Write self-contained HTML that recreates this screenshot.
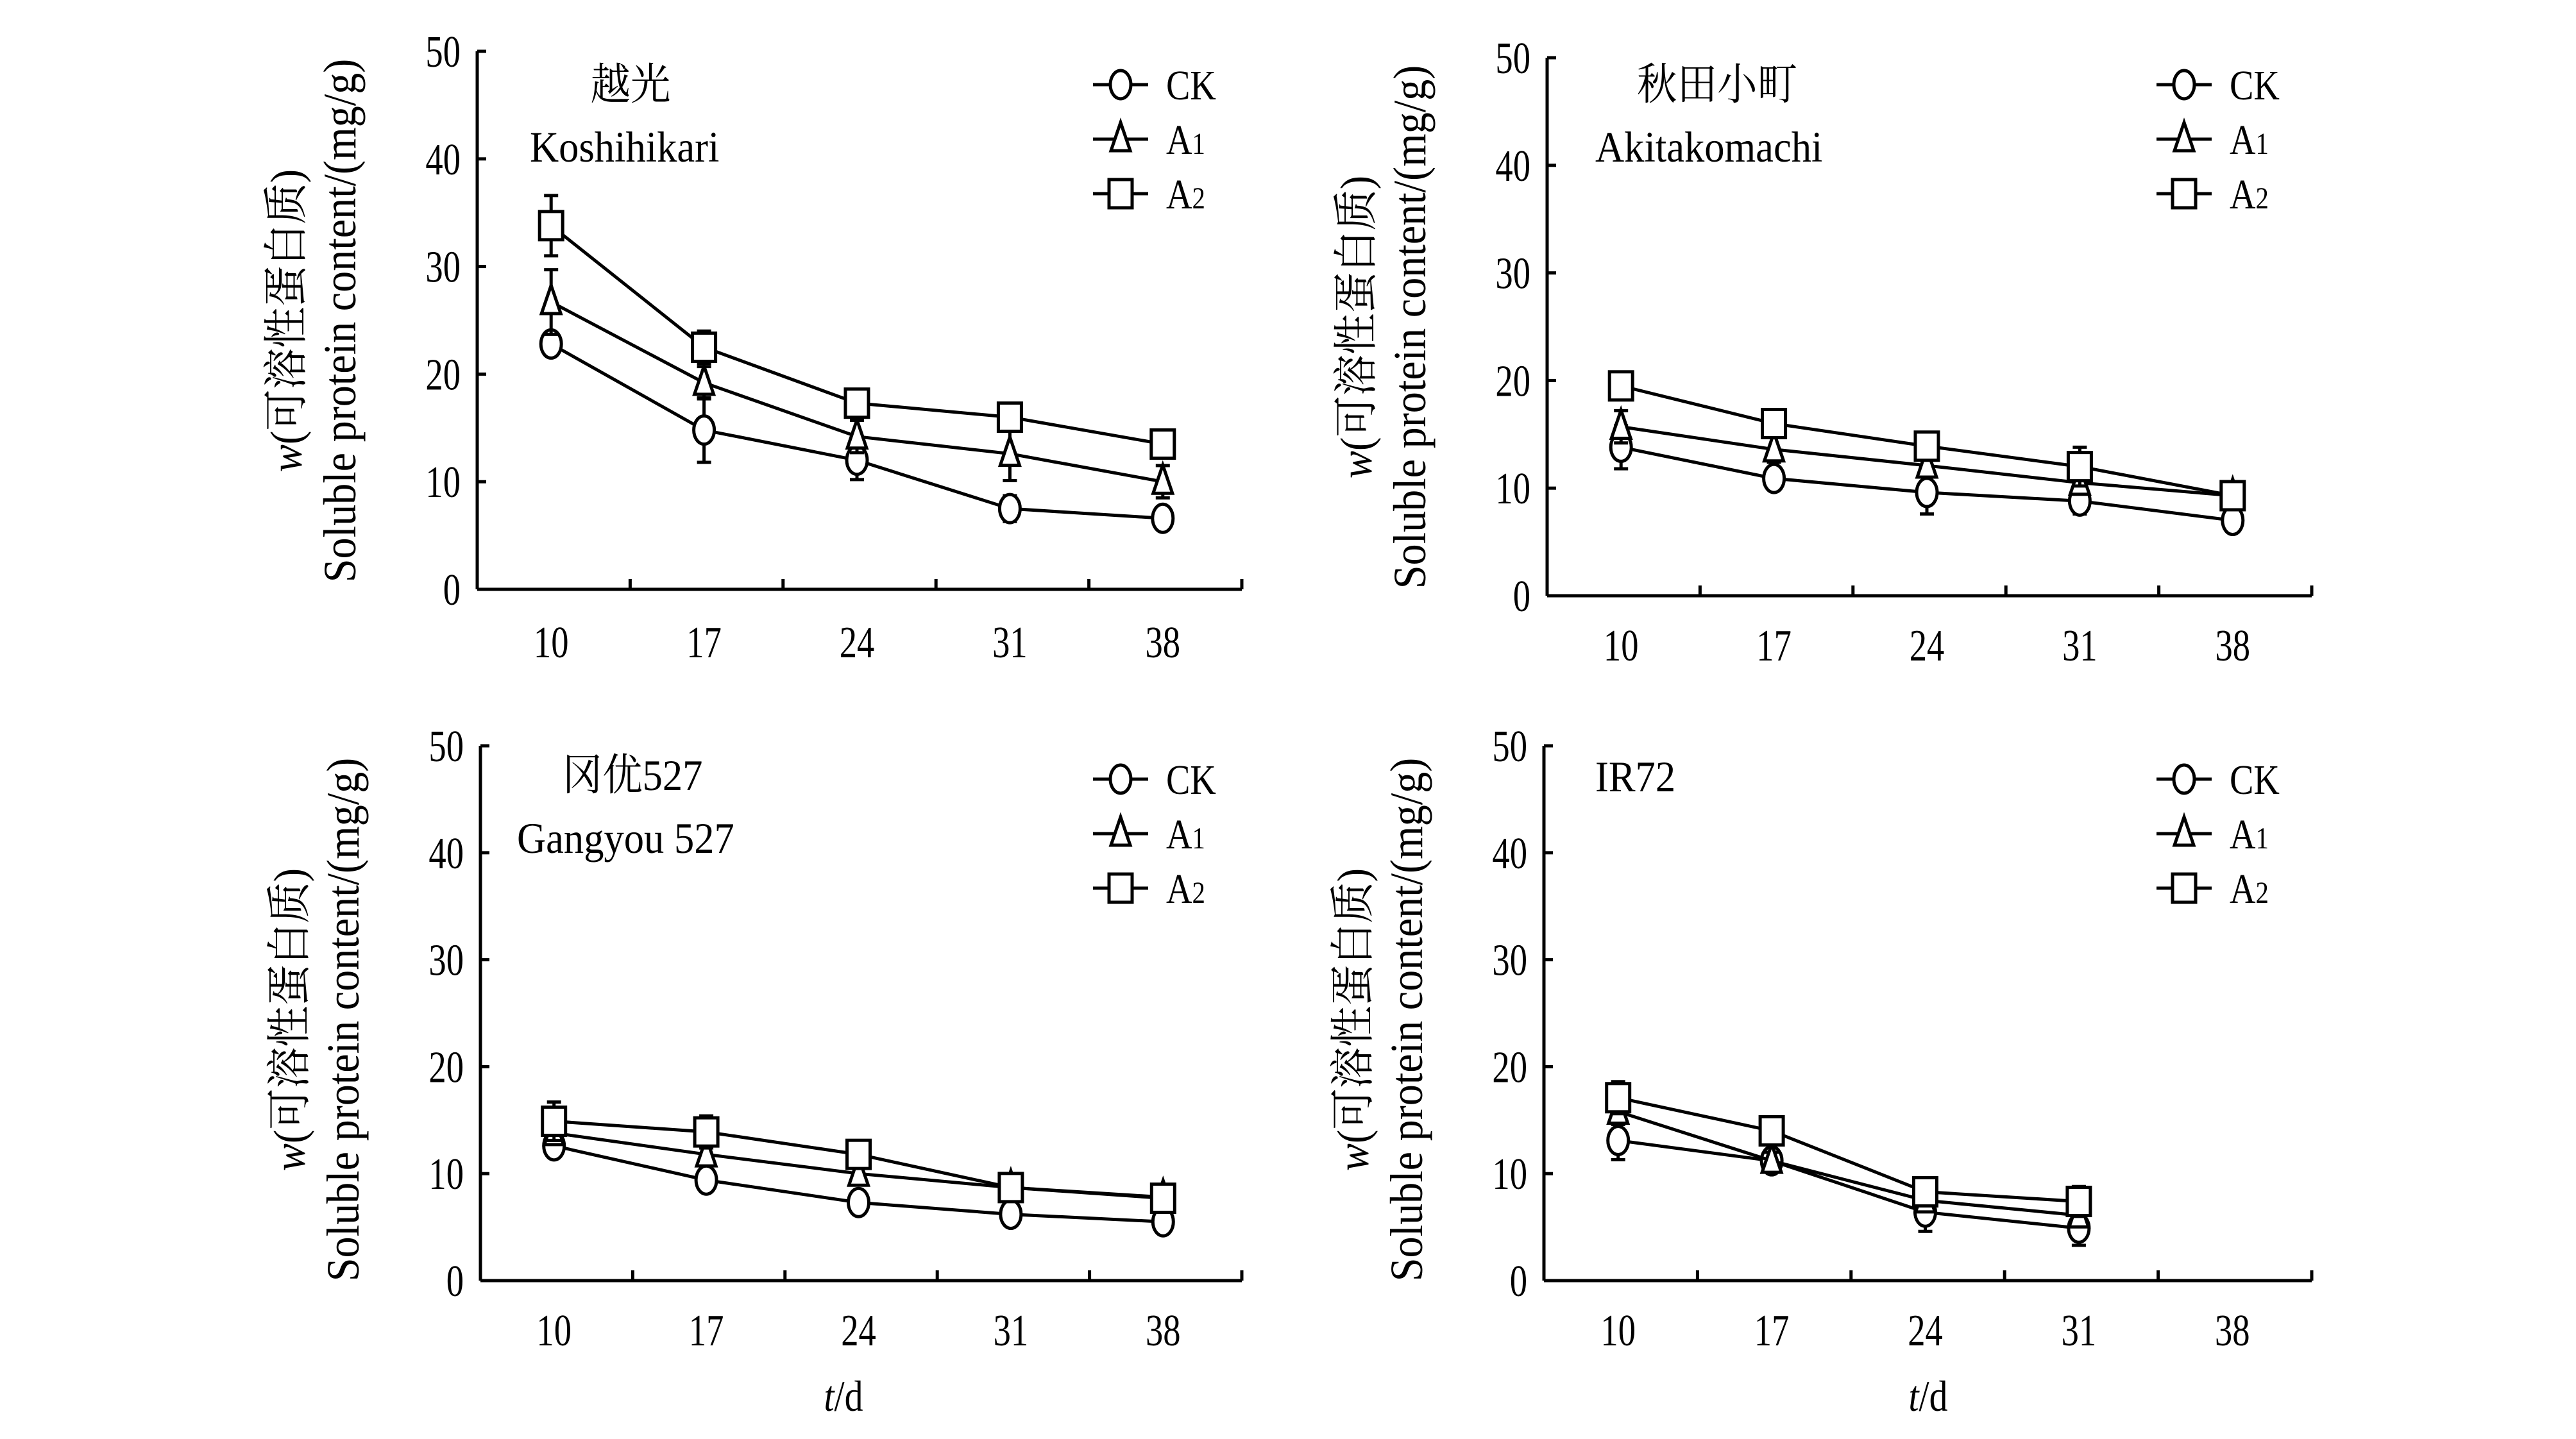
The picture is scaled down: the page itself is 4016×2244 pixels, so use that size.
<!DOCTYPE html>
<html><head><meta charset="utf-8">
<style>
html,body{margin:0;padding:0;background:#fff;}
svg{display:block;}
text{font-family:"Liberation Serif","Noto Serif CJK SC","Noto Sans CJK SC",serif;fill:#000;}
</style></head>
<body>
<svg id="chart" width="4016" height="2244" viewBox="0 0 4016 2244" xmlns="http://www.w3.org/2000/svg"></svg>
<script>
const categories = ["10","17","24","31","38"];
const yTicks = [0,10,20,30,40,50];
const seriesNames = ["CK","A1","A2"];

const p1CK = [22.8,14.8,12.0,7.5,6.6];
const p1A1 = [26.7,19.2,14.2,12.6,10.0];
const p1A2 = [33.8,22.5,17.3,16.0,13.5];
const p1CKerr = [1.0,3.0,1.8,1.2,1.0];
const p1A1err = [3.0,1.5,1.5,2.5,1.5];
const p1A2err = [2.8,1.5,0.8,1.0,1.0];

const p2CK = [13.8,10.9,9.6,8.8,7.0];
const p2A1 = [15.7,13.6,12.1,10.5,9.3];
const p2A2 = [19.5,16.0,13.9,12.0,9.3];
const p2CKerr = [2.0,0.8,2.0,1.2,0.8];
const p2A1err = [1.5,1.2,1.0,1.0,0.6];
const p2A2err = [0.8,1.0,0.8,1.8,0.6];

const p3CK = [12.6,9.4,7.3,6.2,5.5];
const p3A1 = [13.8,11.8,10.0,8.7,7.8];
const p3A2 = [14.9,13.9,11.8,8.7,7.7];
const p3CKerr = [0.8,1.0,0.8,0.6,0.8];
const p3A1err = [0.8,0.8,0.8,0.6,0.8];
const p3A2err = [1.8,1.5,0.8,0.8,1.0];

const p4CK = [13.1,11.2,6.4,4.9];
const p4A1 = [15.8,11.2,7.5,6.1];
const p4A2 = [17.1,14.0,8.3,7.4];
const p4CKerr = [1.8,0.8,1.8,1.6];
const p4A1err = [1.2,0.8,0.8,0.8];
const p4A2err = [1.5,0.8,0.8,1.4];

const NS="http://www.w3.org/2000/svg";
const svg=document.getElementById('chart');
function mk(tag,attrs,parent){const e=document.createElementNS(NS,tag);for(const k in attrs)e.setAttribute(k,attrs[k]);(parent||svg).appendChild(e);return e;}
function ctext(parent,x,y,size,anchor,sx){
  return mk('text',{transform:`translate(${x},${y}) scale(${sx||0.8},1)`,"font-size":size,"text-anchor":anchor},parent);
}

const panels=[
 {id:"koshihikari",x0:744,top:80,zero:919,right:1936,data:[p1CK,p1A1,p1A2],err:[p1CKerr,p1A1err,p1A2err],legY:132,legX:1704,
  labels:[["越光",983,155,"middle"],["Koshihikari",826,252,"start"]],xlabY:1025,titleCy:500,tdY:null},
 {id:"akitakomachi",x0:2412,top:90,zero:929,right:3604,data:[p2CK,p2A1,p2A2],err:[p2CKerr,p2A1err,p2A2err],legY:132,legX:3362,
  labels:[["秋田小町",2677,155,"middle"],["Akitakomachi",2487,252,"start"]],xlabY:1030,titleCy:510,tdY:null},
 {id:"gangyou527",x0:749,top:1163,zero:1997,right:1936,data:[p3CK,p3A1,p3A2],err:[p3CKerr,p3A1err,p3A2err],legY:1215,legX:1704,
  labels:[["冈优527",986,1232,"middle"],["Gangyou 527",806,1330,"start"]],xlabY:2098,titleCy:1590,tdY:2200,tdX:1315},
 {id:"ir72",x0:2407,top:1163,zero:1997,right:3604,data:[p4CK,p4A1,p4A2],err:[p4CKerr,p4A1err,p4A2err],legY:1215,legX:3362,
  labels:[["IR72",2487,1234,"start"]],xlabY:2098,titleCy:1590,tdY:2200,tdX:3006}
];

function drawMarker(g,type,cx,cy){
  const a={fill:"#fff",stroke:"#000","stroke-width":5};
  let m;
  if(type===0){m=mk('ellipse',Object.assign({cx:cx,cy:cy,rx:16,ry:22},a),g);}
  else if(type===1){m=mk('polygon',Object.assign({points:`${cx},${cy-26} ${cx-15},${cy+18} ${cx+15},${cy+18}`},a),g);}
  else {m=mk('rect',Object.assign({x:cx-18,y:cy-22,width:36,height:44},a),g);}
  return m;
}

panels.forEach(p=>{
  const g=mk('g',{});
  
  
  const step=(p.right-p.x0)/categories.length;
  const xS=i=>p.x0+step*(i+0.5)-4;
  const yS=v=>p.zero-(v/50)*(p.zero-p.top);
  const ya=mk('line',{x1:p.x0,y1:p.top,x2:p.x0,y2:p.zero,stroke:"#000","stroke-width":5},g);
  
  
  const xa=mk('line',{x1:p.x0,y1:p.zero,x2:p.right,y2:p.zero,stroke:"#000","stroke-width":5},g);
  
  
  yTicks.forEach(t=>{
    const y=yS(t);
    mk('line',{x1:p.x0,y1:y,x2:p.x0+14,y2:y,stroke:"#000","stroke-width":5},g);
    const tx=ctext(g,p.x0-26,y+24,70,"end",0.78);
    tx.textContent=t;
    
    
  });
  for(let i=1;i<=categories.length;i++){
    const x=p.x0+step*i;
    mk('line',{x1:x,y1:p.zero,x2:x,y2:p.zero-16,stroke:"#000","stroke-width":5},g);
  }
  categories.forEach((c,i)=>{
    const tx=ctext(g,xS(i),p.xlabY,70,"middle",0.78);
    tx.textContent=c;
    
    
  });
  const tt=mk('text',{transform:`translate(${p.x0-274},${p.titleCy}) rotate(-90) scale(0.92,1)`,"font-size":70,"text-anchor":"middle"},g);
  
  
  const ti=mk('tspan',{"font-style":"italic"},tt);ti.textContent="w";
  const tr=mk('tspan',{},tt);tr.textContent="(可溶性蛋白质)";
  const t2=mk('text',{transform:`translate(${p.x0-190},${p.titleCy}) rotate(-90) scale(0.92,1)`,"font-size":72,"text-anchor":"middle"},g);
  t2.textContent="Soluble protein content/(mg/g)";
  
  
  p.labels.forEach(l=>{
    const t=ctext(g,l[1],l[2],68,l[3],0.92);
    t.textContent=l[0];
    
    
  });
  if(p.tdY){
    const t=ctext(g,p.tdX,p.tdY,68,"middle",0.85);
    
    
    const a=mk('tspan',{"font-style":"italic"},t);a.textContent="t";
    const b=mk('tspan',{},t);b.textContent="/d";
  }
  p.data.forEach((vals,si)=>{
    const sg=mk('g',{},g);
    
    
    const pts=vals.map((v,i)=>xS(i)+","+yS(v)).join(" ");
    mk('polyline',{points:pts,fill:"none",stroke:"#000","stroke-width":5},sg);
    vals.forEach((v,i)=>{
      const e=p.err[si][i];
      const x=xS(i);
      mk('line',{x1:x,y1:yS(v+e),x2:x,y2:yS(v-e),stroke:"#000","stroke-width":5},sg);
      mk('line',{x1:x-11,y1:yS(v+e),x2:x+11,y2:yS(v+e),stroke:"#000","stroke-width":5},sg);
      mk('line',{x1:x-11,y1:yS(v-e),x2:x+11,y2:yS(v-e),stroke:"#000","stroke-width":5},sg);
      const m=drawMarker(sg,si,x,yS(v));
      
      
    });
  });
  seriesNames.forEach((n,si)=>{
    const y=p.legY+si*85;
    const lg=mk('g',{},g);
    
    
    mk('line',{x1:p.legX,y1:y,x2:p.legX+86,y2:y,stroke:"#000","stroke-width":5},lg);
    drawMarker(lg,si,p.legX+43,y);
    const t=ctext(lg,p.legX+114,y+23,66,"start",0.85);
    if(si===0){t.textContent="CK";}
    else{const a=mk('tspan',{},t);a.textContent="A";const b=mk('tspan',{"font-size":48},t);b.textContent=String(si);}
  });
});
</script>
</body></html>
